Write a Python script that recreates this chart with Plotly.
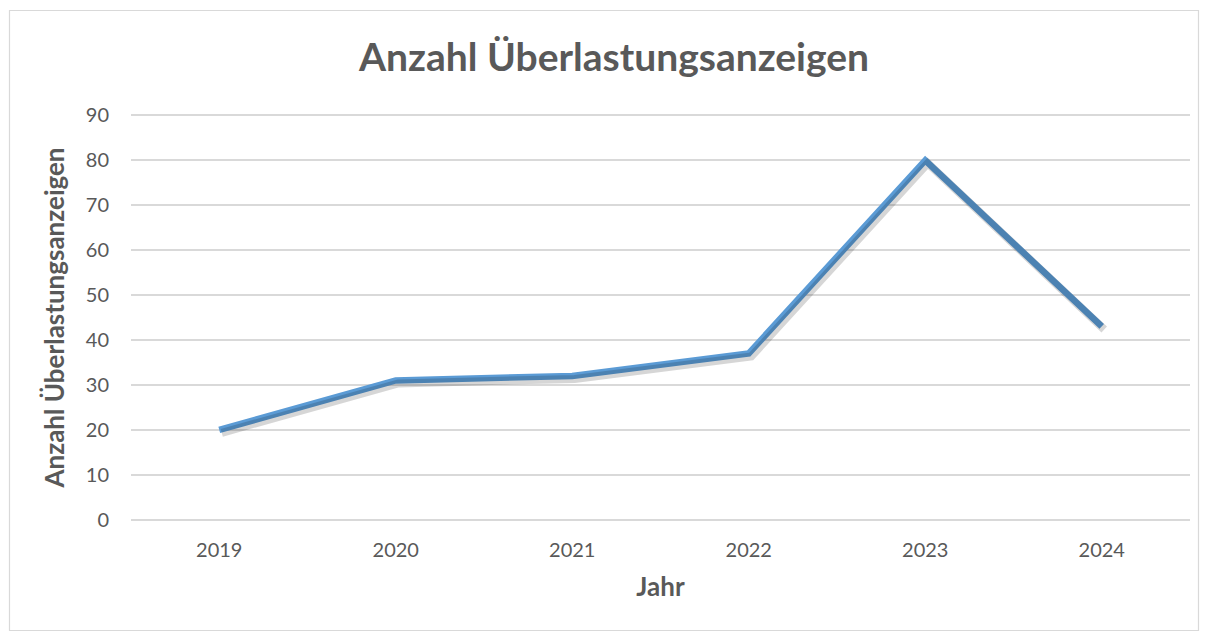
import plotly.graph_objects as go

years = ["2019", "2020", "2021", "2022", "2023", "2024"]
counts = [20, 31, 32, 37, 80, 43]
y_ticks = [0, 10, 20, 30, 40, 50, 60, 70, 80, 90]

# page has an 8px body margin, so the figure itself is 8px smaller on each side
W, H = 1192, 623
L, R, T, B = 123, 10, 106, 110
pw = W - L - R
ph = H - T - B
FONT = "Lato, 'Open Sans', sans-serif"
GRAY = "#595959"
Y_RANGE = [-0.3, 90.3]

# shadow offset through a second pair of axes
dx = 2.5 / (pw / 6)
dy = 3.0 / (ph / (Y_RANGE[1] - Y_RANGE[0]))

fig = go.Figure()
fig.add_trace(go.Scatter(x=list(range(len(years))), y=counts, mode="lines",
                         line=dict(color="rgba(0,0,0,0.16)", width=8),
                         xaxis="x2", yaxis="y2", hoverinfo="skip", showlegend=False))
fig.add_trace(go.Scatter(x=list(range(len(years))), y=counts, mode="lines",
                         line=dict(color="#5B9BD5", width=6.5),
                         showlegend=False))

fig.update_layout(
    width=W, height=H,
    margin=dict(l=L, r=R, t=T, b=B),
    paper_bgcolor="white", plot_bgcolor="white",
    font=dict(family=FONT, color=GRAY, size=20),
    title=dict(text="<b>Anzahl Überlastungsanzeigen</b>", x=606 / W, xanchor="center",
               y=1 - 49 / H, yanchor="middle", font=dict(size=39, color=GRAY, family=FONT)),
    xaxis=dict(range=[-0.5, 5.5], tickmode="array", tickvals=list(range(len(years))),
               ticktext=years, showgrid=False, zeroline=False, showline=False,
               ticks="", ticklabelstandoff=15,
               title=dict(text="<b>Jahr</b>", font=dict(size=26, color=GRAY), standoff=17)),
    yaxis=dict(range=Y_RANGE, tickvals=y_ticks, showgrid=True, gridcolor="#D9D9D9",
               gridwidth=1.5, zeroline=False, showline=False, ticks="",
               ticklabelstandoff=21,
               title=dict(text="<b>Anzahl Überlastungsanzeigen</b>", font=dict(size=26, color=GRAY),
                          standoff=13)),
    xaxis2=dict(range=[-0.5 - dx, 5.5 - dx], overlaying="x", visible=False),
    yaxis2=dict(range=[Y_RANGE[0] + dy, Y_RANGE[1] + dy], overlaying="y", visible=False),
    shapes=[dict(type="rect", xref="paper", yref="paper",
                 x0=(1.5 - L) / pw, x1=(1190.5 - L) / pw,
                 y0=-(622.5 - T - ph) / ph, y1=1 + (T - 2.5) / ph,
                 line=dict(color="#D9D9D9", width=1.2), layer="below")],
)

fig.write_html("out.html")
